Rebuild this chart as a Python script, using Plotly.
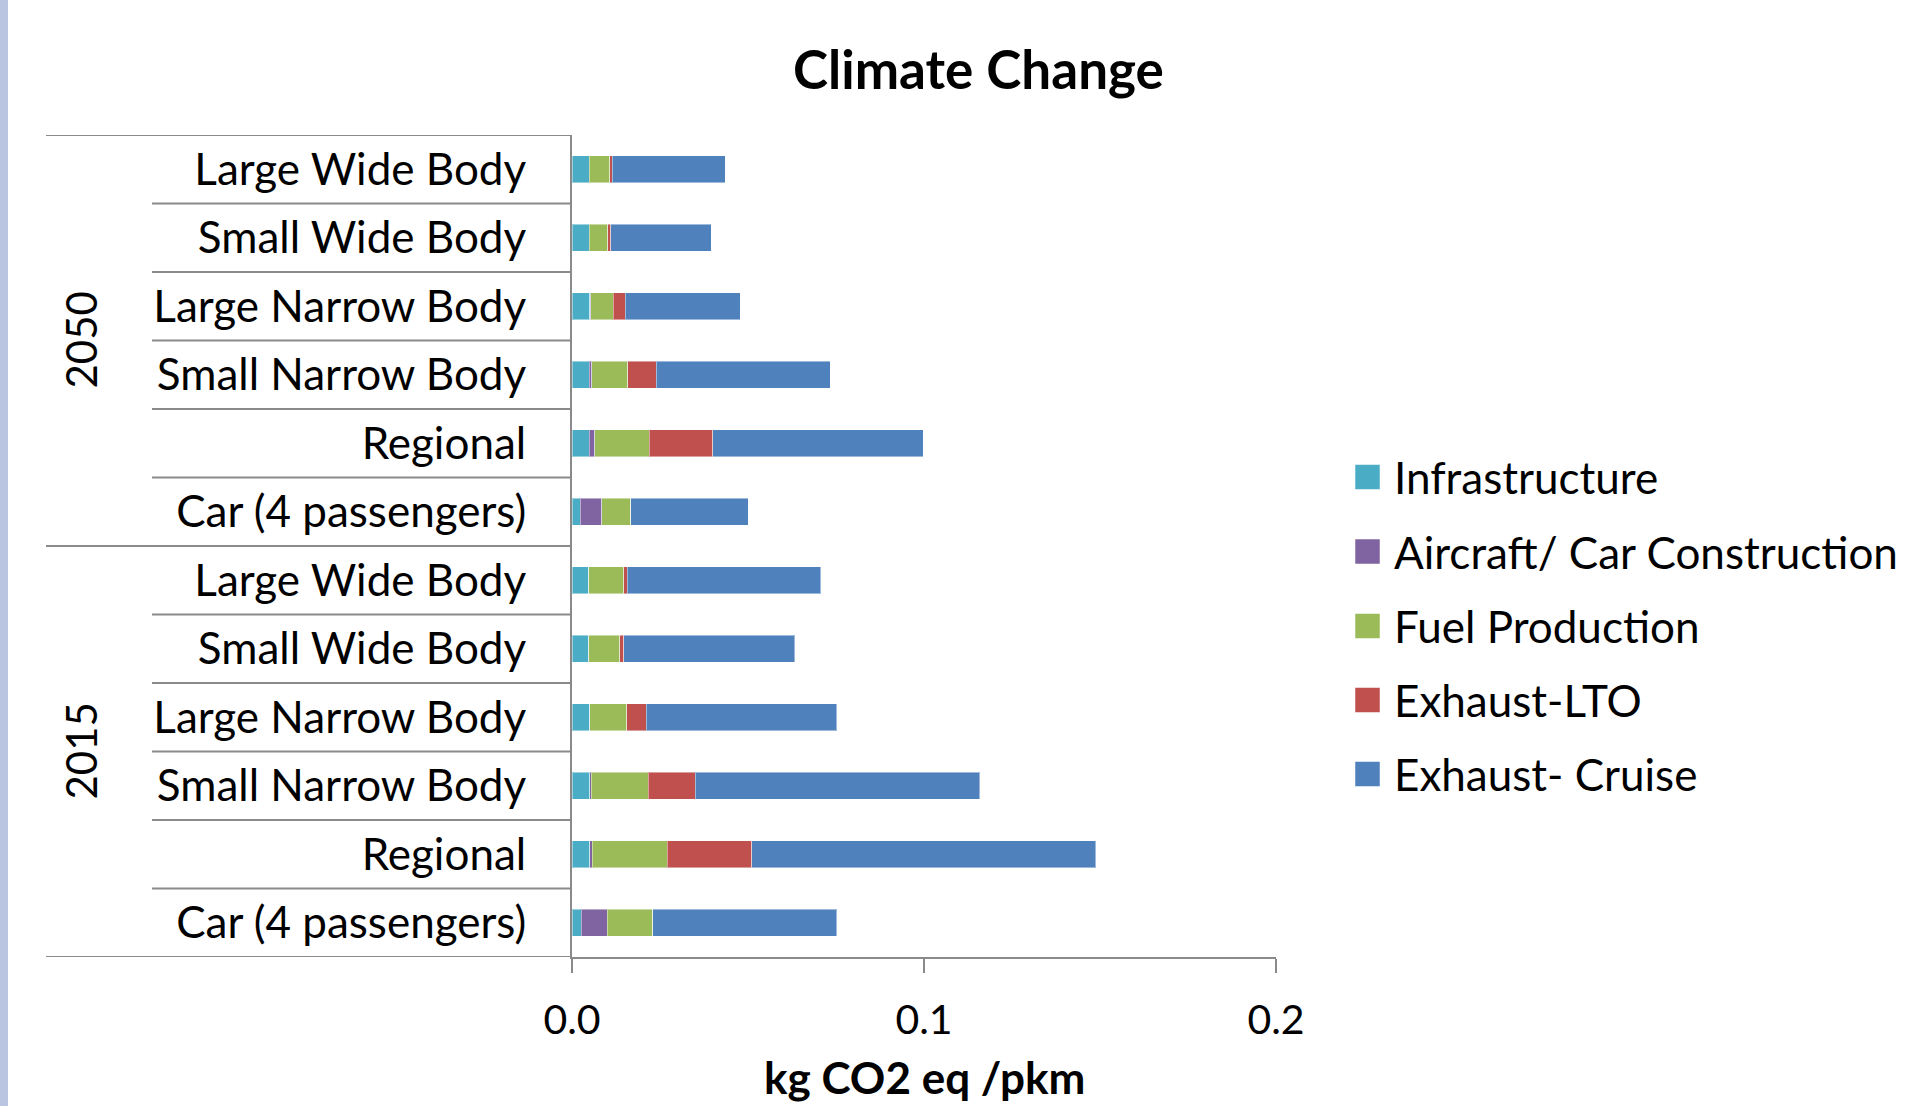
import plotly.graph_objects as go

# Rows listed bottom-to-top (2015 group first, then 2050)
years = ["2015"] * 6 + ["2050"] * 6
vehicles = [
    "Car (4 passengers)", "Regional", "Small Narrow Body",
    "Large Narrow Body", "Small Wide Body", "Large Wide Body",
] * 2

# kg CO2 eq per passenger-km, by life-cycle stage
infrastructure = [0.0026, 0.0050, 0.0050, 0.0050, 0.0048, 0.0048,
                  0.0023, 0.0049, 0.0049, 0.0051, 0.0049, 0.0049]
construction = [0.0074, 0.0008, 0.0004, 0.0001, 0.0000, 0.0000,
                0.0062, 0.0015, 0.0007, 0.0002, 0.0000, 0.0000]
fuel_production = [0.0130, 0.0212, 0.0162, 0.0104, 0.0088, 0.0099,
                   0.0082, 0.0156, 0.0102, 0.0064, 0.0053, 0.0058]
exhaust_lto = [0.0000, 0.0241, 0.0134, 0.0056, 0.0011, 0.0010,
               0.0000, 0.0180, 0.0082, 0.0034, 0.0008, 0.0007]
exhaust_cruise = [0.0522, 0.0977, 0.0808, 0.0541, 0.0486, 0.0550,
                  0.0334, 0.0598, 0.0494, 0.0327, 0.0286, 0.0321]

series_names = ["Infrastructure", "Aircraft/ Car Construction", "Fuel Production",
                "Exhaust-LTO", "Exhaust- Cruise"]
series_values = [infrastructure, construction, fuel_production, exhaust_lto, exhaust_cruise]
series_colors = ["#4BACC6", "#8064A2", "#9BBB59", "#C0504D", "#4F81BD"]

x_ticks = [0.0, 0.1, 0.2]
x_tick_labels = ["0.0", "0.1", "0.2"]

FONT = "Lato"
GRID = "#8a8a8a"

W, H = 1909, 1106
L, R, T, B = 572, 1276, 135, 957  # plot area in pixels
PW, PH = R - L, B - T


def px_x(p):
    return (p - L) / PW


def px_y(p):
    return (B - p) / PH


rows = list(range(len(vehicles)))

fig = go.Figure()
for name, vals, col in zip(series_names, series_values, series_colors):
    fig.add_trace(go.Bar(
        x=vals, y=rows, orientation="h", name=name,
        marker=dict(color=col, line=dict(color="rgba(255,255,255,0.45)", width=1)),
        showlegend=False,
    ))

shapes = []
# category separators: long lines at group boundaries, short ones between rows
for k in range(len(rows) + 1):
    yb = k - 0.5
    boundary = (k % 6 == 0)
    x0 = px_x(46) if boundary else px_x(152)
    shapes.append(dict(type="line", xref="paper", yref="y", x0=x0, x1=0,
                       y0=yb, y1=yb, line=dict(color=GRID, width=2)))

# slide edge strip
shapes.append(dict(type="rect", xref="paper", yref="paper",
                   x0=px_x(0), x1=px_x(8), y0=px_y(H), y1=px_y(0),
                   fillcolor="#b9c5e1", line=dict(width=0), layer="below"))

annotations = []
# year group labels
for label, yc in [("2050", 8.5), ("2015", 2.5)]:
    annotations.append(dict(text=label, xref="paper", yref="y", x=px_x(80), y=yc,
                            xanchor="center", yanchor="middle",
                            textangle=-90, showarrow=False,
                            font=dict(family=FONT, size=42, color="black")))

# title and axis title
annotations.append(dict(text="<b>Climate Change</b>", xref="paper", yref="paper",
                        x=px_x(978), y=px_y(69), showarrow=False,
                        xanchor="center", yanchor="middle",
                        font=dict(family=FONT, size=53, color="black")))
annotations.append(dict(text="<b>kg CO2 eq /pkm</b>", xref="paper", yref="paper",
                        x=0.5, y=px_y(1077), showarrow=False,
                        xanchor="center", yanchor="middle",
                        font=dict(family=FONT, size=44, color="black")))

# legend: coloured squares with their labels
legend_y = [477, 551.5, 626, 700, 774]
for name, col, ly in zip(series_names, series_colors, legend_y):
    shapes.append(dict(type="rect", xref="paper", yref="paper",
                       x0=px_x(1355), x1=px_x(1380), y0=px_y(ly + 12.5), y1=px_y(ly - 12.5),
                       fillcolor=col, line=dict(color="rgba(255,255,255,0.5)", width=1)))
    annotations.append(dict(text=name, xref="paper", yref="paper",
                            x=px_x(1392), y=px_y(ly), showarrow=False,
                            xanchor="left", yanchor="middle",
                            font=dict(family=FONT, size=44, color="black")))

fig.update_layout(
    width=W, height=H,
    margin=dict(l=L, r=W - R, t=T, b=H - B, pad=0),
    barmode="stack", bargap=0.6,
    paper_bgcolor="white", plot_bgcolor="white",
    font=dict(family=FONT, size=44, color="black"),
    shapes=shapes, annotations=annotations,
    showlegend=False,
    xaxis=dict(range=[0, 0.2], tickvals=x_ticks, ticktext=x_tick_labels,
               showgrid=False, zeroline=False, showline=True, linecolor=GRID, linewidth=2,
               ticks="outside", ticklen=14, tickwidth=2, tickcolor=GRID,
               tickfont=dict(family=FONT, size=41, color="black"),
               ticklabelstandoff=12, fixedrange=True),
    yaxis=dict(range=[-0.5, 11.5], tickvals=rows, ticktext=vehicles,
               showgrid=False, zeroline=False, showline=True, linecolor=GRID, linewidth=2,
               ticks="", tickfont=dict(family=FONT, size=44, color="black"),
               ticklabelstandoff=35, fixedrange=True),
)

fig.write_html("out.html")
